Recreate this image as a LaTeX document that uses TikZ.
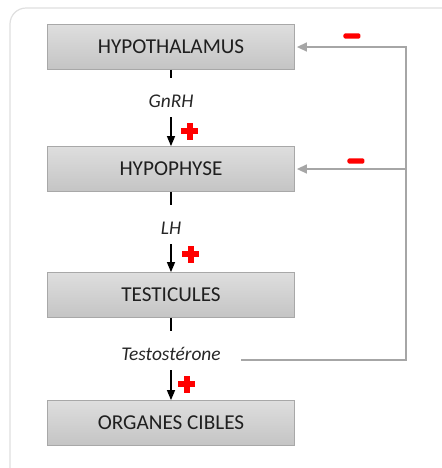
\documentclass[tikz,border=0pt]{standalone}
\usepackage{fontspec}
\setmainfont{Carlito}
\usetikzlibrary{arrows.meta}
\tikzset{
  organ/.style={draw=gray!68, top color=gray!26, bottom color=gray!46, minimum width=123.5pt,
    minimum height=22.5pt, inner sep=0pt, font=\fontsize{10.6}{12}\selectfont, text=black!88},
  hormone/.style={inner sep=0pt, text height=7pt, text depth=2pt, font=\fontsize{9.7}{11}\selectfont\itshape, text=black!85},
  secretion/.style={line width=.65pt, shorten >=7.5pt},
  stim/.style={line width=.65pt, shorten <=3pt, -{Triangle[length=5pt,width=4pt]}},
  feedback/.style={gray!70, line width=.75pt, -{Triangle[length=5pt,width=4.5pt]}, shorten >=1pt},
  redplus/.pic={\fill[red] (-8.5,-3) rectangle (8.5,3); \fill[red] (-3,-8.5) rectangle (3,8.5);},
  redminus/.pic={\fill[red, rounded corners=.8pt] (-8.5,-2.7) rectangle (8.5,2.7);}
}
\begin{document}
\begin{tikzpicture}[x=0.5pt,y=-0.5pt]
  \useasboundingbox (0,0) rectangle (442,468);
  \draw[gray!25, line width=.6pt, rounded corners=8pt] (10,490) -- (10,8) -- (470,8);
  % organes
  \node[organ] (hypoth) at (171,47) {HYPOTHALAMUS};
  \node[organ] (hypoph) at (171,169) {HYPOPHYSE};
  \node[organ] (testic) at (171,295) {TESTICULES};
  \node[organ] (cibles) at (171,423) {ORGANES CIBLES};
  % hormones
  \node[hormone] (gnrh) at (171,102) {GnRH};
  \node[hormone] (lh) at (171,229) {LH};
  \node[hormone] (testo) at (171,355) {Testostérone};
  \draw[secretion] (hypoth) -- (gnrh);
  \draw[stim] (gnrh) -- (hypoph);
  \draw[secretion] (hypoph) -- (lh);
  \draw[stim] (lh) -- (testic);
  \draw[secretion] (testic) -- (testo);
  \draw[stim] (testo) -- (cibles);
  \pic at (190,131) {redplus};
  \pic at (191,254) {redplus};
  \pic at (187,384) {redplus};
  % retrocontrole
  \coordinate (fbr) at (406,360);
  \draw[feedback, shorten <=10pt] (testo.base east) -- (fbr) |- (hypoth.east);
  \draw[feedback] (fbr |- hypoph.east) -- (hypoph.east);
  \pic at (352,36) {redminus};
  \pic at (356,161) {redminus};
\end{tikzpicture}
\end{document}
